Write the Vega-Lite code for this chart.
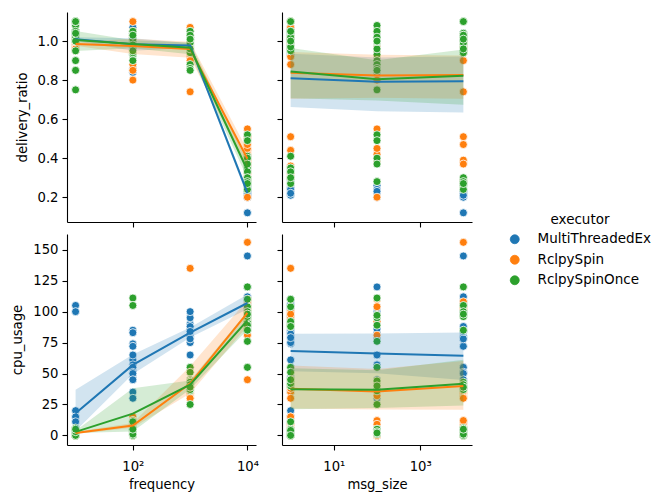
{
"$schema": "https://vega.github.io/schema/vega-lite/v6.json",
"autosize": {"type": "pad"},
"padding": {"left": 10, "top": 12, "right": 5, "bottom": 5},
"background": "white",
"config": {
 "font": "DejaVu Sans",
 "view": {"stroke": null},
 "axis": {"grid": false, "domainColor": "#000", "domainWidth": 1.1, "tickColor": "#000", "tickWidth": 1.1, "tickSize": 5, "labelColor": "#000", "labelFontSize": 13.2, "labelPadding": 4, "labelOverlap": false, "titleColor": "#000", "titleFontSize": 13.2, "titleFontWeight": "normal", "labelFont": "DejaVu Sans", "titleFont": "DejaVu Sans", "titlePadding": 8},
 "axisX": {"labelPadding": 10, "titlePadding": 6.5},
 "legend": {"labelFont": "DejaVu Sans", "titleFont": "DejaVu Sans", "labelColor": "#000", "titleColor": "#000"}
},
"data": {"values": [
{"executor":"MultiThreadedEx","frequency":10,"msg_size":1,"delivery_ratio":1.05,"cpu_usage":105},
{"executor":"MultiThreadedEx","frequency":10,"msg_size":1,"delivery_ratio":1.02,"cpu_usage":20},
{"executor":"MultiThreadedEx","frequency":10,"msg_size":1,"delivery_ratio":1.0,"cpu_usage":15},
{"executor":"MultiThreadedEx","frequency":10,"msg_size":1,"delivery_ratio":1.0,"cpu_usage":2},
{"executor":"MultiThreadedEx","frequency":10,"msg_size":1,"delivery_ratio":1.03,"cpu_usage":0},
{"executor":"MultiThreadedEx","frequency":10,"msg_size":100,"delivery_ratio":0.98,"cpu_usage":100},
{"executor":"MultiThreadedEx","frequency":10,"msg_size":100,"delivery_ratio":1.01,"cpu_usage":11},
{"executor":"MultiThreadedEx","frequency":10,"msg_size":100,"delivery_ratio":1.04,"cpu_usage":3},
{"executor":"MultiThreadedEx","frequency":10,"msg_size":100,"delivery_ratio":0.99,"cpu_usage":1},
{"executor":"MultiThreadedEx","frequency":10,"msg_size":100,"delivery_ratio":1.0,"cpu_usage":0},
{"executor":"MultiThreadedEx","frequency":10,"msg_size":10000,"delivery_ratio":1.02,"cpu_usage":5},
{"executor":"MultiThreadedEx","frequency":10,"msg_size":10000,"delivery_ratio":0.97,"cpu_usage":4},
{"executor":"MultiThreadedEx","frequency":10,"msg_size":10000,"delivery_ratio":1.03,"cpu_usage":2},
{"executor":"MultiThreadedEx","frequency":10,"msg_size":10000,"delivery_ratio":1.0,"cpu_usage":1},
{"executor":"MultiThreadedEx","frequency":10,"msg_size":10000,"delivery_ratio":1.01,"cpu_usage":0},
{"executor":"MultiThreadedEx","frequency":100,"msg_size":1,"delivery_ratio":1.07,"cpu_usage":85},
{"executor":"MultiThreadedEx","frequency":100,"msg_size":1,"delivery_ratio":1.05,"cpu_usage":74},
{"executor":"MultiThreadedEx","frequency":100,"msg_size":1,"delivery_ratio":1.0,"cpu_usage":61},
{"executor":"MultiThreadedEx","frequency":100,"msg_size":1,"delivery_ratio":0.97,"cpu_usage":47},
{"executor":"MultiThreadedEx","frequency":100,"msg_size":1,"delivery_ratio":0.93,"cpu_usage":35},
{"executor":"MultiThreadedEx","frequency":100,"msg_size":100,"delivery_ratio":0.84,"cpu_usage":83},
{"executor":"MultiThreadedEx","frequency":100,"msg_size":100,"delivery_ratio":0.86,"cpu_usage":65},
{"executor":"MultiThreadedEx","frequency":100,"msg_size":100,"delivery_ratio":1.02,"cpu_usage":57},
{"executor":"MultiThreadedEx","frequency":100,"msg_size":100,"delivery_ratio":1.0,"cpu_usage":45},
{"executor":"MultiThreadedEx","frequency":100,"msg_size":100,"delivery_ratio":0.98,"cpu_usage":30},
{"executor":"MultiThreadedEx","frequency":100,"msg_size":10000,"delivery_ratio":1.04,"cpu_usage":72},
{"executor":"MultiThreadedEx","frequency":100,"msg_size":10000,"delivery_ratio":1.01,"cpu_usage":55},
{"executor":"MultiThreadedEx","frequency":100,"msg_size":10000,"delivery_ratio":0.96,"cpu_usage":51},
{"executor":"MultiThreadedEx","frequency":100,"msg_size":10000,"delivery_ratio":0.99,"cpu_usage":50},
{"executor":"MultiThreadedEx","frequency":100,"msg_size":10000,"delivery_ratio":1.03,"cpu_usage":45},
{"executor":"MultiThreadedEx","frequency":1000,"msg_size":1,"delivery_ratio":1.02,"cpu_usage":90},
{"executor":"MultiThreadedEx","frequency":1000,"msg_size":1,"delivery_ratio":1.0,"cpu_usage":84},
{"executor":"MultiThreadedEx","frequency":1000,"msg_size":1,"delivery_ratio":0.96,"cpu_usage":75},
{"executor":"MultiThreadedEx","frequency":1000,"msg_size":1,"delivery_ratio":0.95,"cpu_usage":82},
{"executor":"MultiThreadedEx","frequency":1000,"msg_size":1,"delivery_ratio":0.93,"cpu_usage":79},
{"executor":"MultiThreadedEx","frequency":1000,"msg_size":100,"delivery_ratio":0.99,"cpu_usage":95},
{"executor":"MultiThreadedEx","frequency":1000,"msg_size":100,"delivery_ratio":1.01,"cpu_usage":80},
{"executor":"MultiThreadedEx","frequency":1000,"msg_size":100,"delivery_ratio":0.98,"cpu_usage":65},
{"executor":"MultiThreadedEx","frequency":1000,"msg_size":100,"delivery_ratio":0.97,"cpu_usage":86},
{"executor":"MultiThreadedEx","frequency":1000,"msg_size":100,"delivery_ratio":1.0,"cpu_usage":79},
{"executor":"MultiThreadedEx","frequency":1000,"msg_size":10000,"delivery_ratio":0.95,"cpu_usage":100},
{"executor":"MultiThreadedEx","frequency":1000,"msg_size":10000,"delivery_ratio":0.99,"cpu_usage":88},
{"executor":"MultiThreadedEx","frequency":1000,"msg_size":10000,"delivery_ratio":0.98,"cpu_usage":80},
{"executor":"MultiThreadedEx","frequency":1000,"msg_size":10000,"delivery_ratio":0.96,"cpu_usage":78},
{"executor":"MultiThreadedEx","frequency":1000,"msg_size":10000,"delivery_ratio":0.97,"cpu_usage":84},
{"executor":"MultiThreadedEx","frequency":10000,"msg_size":1,"delivery_ratio":0.29,"cpu_usage":110},
{"executor":"MultiThreadedEx","frequency":10000,"msg_size":1,"delivery_ratio":0.25,"cpu_usage":106},
{"executor":"MultiThreadedEx","frequency":10000,"msg_size":1,"delivery_ratio":0.21,"cpu_usage":102},
{"executor":"MultiThreadedEx","frequency":10000,"msg_size":1,"delivery_ratio":0.24,"cpu_usage":95},
{"executor":"MultiThreadedEx","frequency":10000,"msg_size":1,"delivery_ratio":0.22,"cpu_usage":96},
{"executor":"MultiThreadedEx","frequency":10000,"msg_size":100,"delivery_ratio":0.26,"cpu_usage":120},
{"executor":"MultiThreadedEx","frequency":10000,"msg_size":100,"delivery_ratio":0.24,"cpu_usage":100},
{"executor":"MultiThreadedEx","frequency":10000,"msg_size":100,"delivery_ratio":0.2,"cpu_usage":104},
{"executor":"MultiThreadedEx","frequency":10000,"msg_size":100,"delivery_ratio":0.22,"cpu_usage":98},
{"executor":"MultiThreadedEx","frequency":10000,"msg_size":100,"delivery_ratio":0.23,"cpu_usage":103},
{"executor":"MultiThreadedEx","frequency":10000,"msg_size":10000,"delivery_ratio":0.23,"cpu_usage":145},
{"executor":"MultiThreadedEx","frequency":10000,"msg_size":10000,"delivery_ratio":0.2,"cpu_usage":108},
{"executor":"MultiThreadedEx","frequency":10000,"msg_size":10000,"delivery_ratio":0.12,"cpu_usage":112},
{"executor":"MultiThreadedEx","frequency":10000,"msg_size":10000,"delivery_ratio":0.22,"cpu_usage":101},
{"executor":"MultiThreadedEx","frequency":10000,"msg_size":10000,"delivery_ratio":0.21,"cpu_usage":105},
{"executor":"RclpySpin","frequency":10,"msg_size":1,"delivery_ratio":0.97,"cpu_usage":0},
{"executor":"RclpySpin","frequency":10,"msg_size":1,"delivery_ratio":1.0,"cpu_usage":5},
{"executor":"RclpySpin","frequency":10,"msg_size":1,"delivery_ratio":0.98,"cpu_usage":2},
{"executor":"RclpySpin","frequency":10,"msg_size":1,"delivery_ratio":1.02,"cpu_usage":0},
{"executor":"RclpySpin","frequency":10,"msg_size":1,"delivery_ratio":0.95,"cpu_usage":3},
{"executor":"RclpySpin","frequency":10,"msg_size":100,"delivery_ratio":0.99,"cpu_usage":1},
{"executor":"RclpySpin","frequency":10,"msg_size":100,"delivery_ratio":0.96,"cpu_usage":0},
{"executor":"RclpySpin","frequency":10,"msg_size":100,"delivery_ratio":1.01,"cpu_usage":4},
{"executor":"RclpySpin","frequency":10,"msg_size":100,"delivery_ratio":1.0,"cpu_usage":2},
{"executor":"RclpySpin","frequency":10,"msg_size":100,"delivery_ratio":0.97,"cpu_usage":0},
{"executor":"RclpySpin","frequency":10,"msg_size":10000,"delivery_ratio":0.98,"cpu_usage":3},
{"executor":"RclpySpin","frequency":10,"msg_size":10000,"delivery_ratio":1.0,"cpu_usage":1},
{"executor":"RclpySpin","frequency":10,"msg_size":10000,"delivery_ratio":0.99,"cpu_usage":5},
{"executor":"RclpySpin","frequency":10,"msg_size":10000,"delivery_ratio":0.96,"cpu_usage":2},
{"executor":"RclpySpin","frequency":10,"msg_size":10000,"delivery_ratio":1.0,"cpu_usage":0},
{"executor":"RclpySpin","frequency":100,"msg_size":1,"delivery_ratio":1.1,"cpu_usage":15},
{"executor":"RclpySpin","frequency":100,"msg_size":1,"delivery_ratio":0.88,"cpu_usage":8},
{"executor":"RclpySpin","frequency":100,"msg_size":1,"delivery_ratio":1.0,"cpu_usage":0},
{"executor":"RclpySpin","frequency":100,"msg_size":1,"delivery_ratio":0.98,"cpu_usage":10},
{"executor":"RclpySpin","frequency":100,"msg_size":1,"delivery_ratio":1.02,"cpu_usage":5},
{"executor":"RclpySpin","frequency":100,"msg_size":100,"delivery_ratio":0.8,"cpu_usage":12},
{"executor":"RclpySpin","frequency":100,"msg_size":100,"delivery_ratio":0.85,"cpu_usage":8},
{"executor":"RclpySpin","frequency":100,"msg_size":100,"delivery_ratio":0.95,"cpu_usage":6},
{"executor":"RclpySpin","frequency":100,"msg_size":100,"delivery_ratio":1.05,"cpu_usage":9},
{"executor":"RclpySpin","frequency":100,"msg_size":100,"delivery_ratio":1.0,"cpu_usage":3},
{"executor":"RclpySpin","frequency":100,"msg_size":10000,"delivery_ratio":0.97,"cpu_usage":11},
{"executor":"RclpySpin","frequency":100,"msg_size":10000,"delivery_ratio":1.03,"cpu_usage":7},
{"executor":"RclpySpin","frequency":100,"msg_size":10000,"delivery_ratio":0.99,"cpu_usage":4},
{"executor":"RclpySpin","frequency":100,"msg_size":10000,"delivery_ratio":1.01,"cpu_usage":10},
{"executor":"RclpySpin","frequency":100,"msg_size":10000,"delivery_ratio":1.0,"cpu_usage":12},
{"executor":"RclpySpin","frequency":1000,"msg_size":1,"delivery_ratio":0.95,"cpu_usage":135},
{"executor":"RclpySpin","frequency":1000,"msg_size":1,"delivery_ratio":1.07,"cpu_usage":35},
{"executor":"RclpySpin","frequency":1000,"msg_size":1,"delivery_ratio":0.98,"cpu_usage":30},
{"executor":"RclpySpin","frequency":1000,"msg_size":1,"delivery_ratio":0.92,"cpu_usage":40},
{"executor":"RclpySpin","frequency":1000,"msg_size":1,"delivery_ratio":1.0,"cpu_usage":38},
{"executor":"RclpySpin","frequency":1000,"msg_size":100,"delivery_ratio":1.05,"cpu_usage":33},
{"executor":"RclpySpin","frequency":1000,"msg_size":100,"delivery_ratio":0.96,"cpu_usage":36},
{"executor":"RclpySpin","frequency":1000,"msg_size":100,"delivery_ratio":0.93,"cpu_usage":32},
{"executor":"RclpySpin","frequency":1000,"msg_size":100,"delivery_ratio":0.97,"cpu_usage":42},
{"executor":"RclpySpin","frequency":1000,"msg_size":100,"delivery_ratio":0.99,"cpu_usage":37},
{"executor":"RclpySpin","frequency":1000,"msg_size":10000,"delivery_ratio":0.74,"cpu_usage":34},
{"executor":"RclpySpin","frequency":1000,"msg_size":10000,"delivery_ratio":0.94,"cpu_usage":31},
{"executor":"RclpySpin","frequency":1000,"msg_size":10000,"delivery_ratio":1.02,"cpu_usage":39},
{"executor":"RclpySpin","frequency":1000,"msg_size":10000,"delivery_ratio":0.9,"cpu_usage":36},
{"executor":"RclpySpin","frequency":1000,"msg_size":10000,"delivery_ratio":0.98,"cpu_usage":30},
{"executor":"RclpySpin","frequency":10000,"msg_size":1,"delivery_ratio":0.51,"cpu_usage":95},
{"executor":"RclpySpin","frequency":10000,"msg_size":1,"delivery_ratio":0.44,"cpu_usage":89},
{"executor":"RclpySpin","frequency":10000,"msg_size":1,"delivery_ratio":0.32,"cpu_usage":100},
{"executor":"RclpySpin","frequency":10000,"msg_size":1,"delivery_ratio":0.36,"cpu_usage":45},
{"executor":"RclpySpin","frequency":10000,"msg_size":1,"delivery_ratio":0.3,"cpu_usage":98},
{"executor":"RclpySpin","frequency":10000,"msg_size":100,"delivery_ratio":0.55,"cpu_usage":81},
{"executor":"RclpySpin","frequency":10000,"msg_size":100,"delivery_ratio":0.42,"cpu_usage":110},
{"executor":"RclpySpin","frequency":10000,"msg_size":100,"delivery_ratio":0.2,"cpu_usage":92},
{"executor":"RclpySpin","frequency":10000,"msg_size":100,"delivery_ratio":0.45,"cpu_usage":104},
{"executor":"RclpySpin","frequency":10000,"msg_size":100,"delivery_ratio":0.38,"cpu_usage":96},
{"executor":"RclpySpin","frequency":10000,"msg_size":10000,"delivery_ratio":0.51,"cpu_usage":156},
{"executor":"RclpySpin","frequency":10000,"msg_size":10000,"delivery_ratio":0.47,"cpu_usage":105},
{"executor":"RclpySpin","frequency":10000,"msg_size":10000,"delivery_ratio":0.39,"cpu_usage":108},
{"executor":"RclpySpin","frequency":10000,"msg_size":10000,"delivery_ratio":0.37,"cpu_usage":102},
{"executor":"RclpySpin","frequency":10000,"msg_size":10000,"delivery_ratio":0.28,"cpu_usage":104},
{"executor":"RclpySpinOnce","frequency":10,"msg_size":1,"delivery_ratio":1.1,"cpu_usage":0},
{"executor":"RclpySpinOnce","frequency":10,"msg_size":1,"delivery_ratio":1.0,"cpu_usage":5},
{"executor":"RclpySpinOnce","frequency":10,"msg_size":1,"delivery_ratio":0.95,"cpu_usage":2},
{"executor":"RclpySpinOnce","frequency":10,"msg_size":1,"delivery_ratio":1.1,"cpu_usage":3},
{"executor":"RclpySpinOnce","frequency":10,"msg_size":1,"delivery_ratio":1.05,"cpu_usage":0},
{"executor":"RclpySpinOnce","frequency":10,"msg_size":100,"delivery_ratio":0.75,"cpu_usage":4},
{"executor":"RclpySpinOnce","frequency":10,"msg_size":100,"delivery_ratio":0.9,"cpu_usage":5},
{"executor":"RclpySpinOnce","frequency":10,"msg_size":100,"delivery_ratio":0.85,"cpu_usage":1},
{"executor":"RclpySpinOnce","frequency":10,"msg_size":100,"delivery_ratio":1.08,"cpu_usage":3},
{"executor":"RclpySpinOnce","frequency":10,"msg_size":100,"delivery_ratio":1.05,"cpu_usage":2},
{"executor":"RclpySpinOnce","frequency":10,"msg_size":10000,"delivery_ratio":1.1,"cpu_usage":6},
{"executor":"RclpySpinOnce","frequency":10,"msg_size":10000,"delivery_ratio":1.02,"cpu_usage":0},
{"executor":"RclpySpinOnce","frequency":10,"msg_size":10000,"delivery_ratio":1.1,"cpu_usage":4},
{"executor":"RclpySpinOnce","frequency":10,"msg_size":10000,"delivery_ratio":1.0,"cpu_usage":3},
{"executor":"RclpySpinOnce","frequency":10,"msg_size":10000,"delivery_ratio":1.04,"cpu_usage":5},
{"executor":"RclpySpinOnce","frequency":100,"msg_size":1,"delivery_ratio":1.04,"cpu_usage":11},
{"executor":"RclpySpinOnce","frequency":100,"msg_size":1,"delivery_ratio":1.05,"cpu_usage":3},
{"executor":"RclpySpinOnce","frequency":100,"msg_size":1,"delivery_ratio":1.0,"cpu_usage":2},
{"executor":"RclpySpinOnce","frequency":100,"msg_size":1,"delivery_ratio":0.97,"cpu_usage":4},
{"executor":"RclpySpinOnce","frequency":100,"msg_size":1,"delivery_ratio":1.02,"cpu_usage":0},
{"executor":"RclpySpinOnce","frequency":100,"msg_size":100,"delivery_ratio":0.93,"cpu_usage":111},
{"executor":"RclpySpinOnce","frequency":100,"msg_size":100,"delivery_ratio":0.99,"cpu_usage":5},
{"executor":"RclpySpinOnce","frequency":100,"msg_size":100,"delivery_ratio":0.9,"cpu_usage":5},
{"executor":"RclpySpinOnce","frequency":100,"msg_size":100,"delivery_ratio":0.96,"cpu_usage":3},
{"executor":"RclpySpinOnce","frequency":100,"msg_size":100,"delivery_ratio":1.0,"cpu_usage":2},
{"executor":"RclpySpinOnce","frequency":100,"msg_size":10000,"delivery_ratio":0.94,"cpu_usage":105},
{"executor":"RclpySpinOnce","frequency":100,"msg_size":10000,"delivery_ratio":1.01,"cpu_usage":4},
{"executor":"RclpySpinOnce","frequency":100,"msg_size":10000,"delivery_ratio":0.98,"cpu_usage":3},
{"executor":"RclpySpinOnce","frequency":100,"msg_size":10000,"delivery_ratio":1.03,"cpu_usage":1},
{"executor":"RclpySpinOnce","frequency":100,"msg_size":10000,"delivery_ratio":0.95,"cpu_usage":5},
{"executor":"RclpySpinOnce","frequency":1000,"msg_size":1,"delivery_ratio":1.05,"cpu_usage":55},
{"executor":"RclpySpinOnce","frequency":1000,"msg_size":1,"delivery_ratio":0.98,"cpu_usage":51},
{"executor":"RclpySpinOnce","frequency":1000,"msg_size":1,"delivery_ratio":0.95,"cpu_usage":40},
{"executor":"RclpySpinOnce","frequency":1000,"msg_size":1,"delivery_ratio":0.97,"cpu_usage":42},
{"executor":"RclpySpinOnce","frequency":1000,"msg_size":1,"delivery_ratio":1.0,"cpu_usage":45},
{"executor":"RclpySpinOnce","frequency":1000,"msg_size":100,"delivery_ratio":0.88,"cpu_usage":38},
{"executor":"RclpySpinOnce","frequency":1000,"msg_size":100,"delivery_ratio":1.02,"cpu_usage":25},
{"executor":"RclpySpinOnce","frequency":1000,"msg_size":100,"delivery_ratio":0.86,"cpu_usage":44},
{"executor":"RclpySpinOnce","frequency":1000,"msg_size":100,"delivery_ratio":0.85,"cpu_usage":36},
{"executor":"RclpySpinOnce","frequency":1000,"msg_size":100,"delivery_ratio":1.0,"cpu_usage":40},
{"executor":"RclpySpinOnce","frequency":1000,"msg_size":10000,"delivery_ratio":0.99,"cpu_usage":39},
{"executor":"RclpySpinOnce","frequency":1000,"msg_size":10000,"delivery_ratio":0.94,"cpu_usage":43},
{"executor":"RclpySpinOnce","frequency":1000,"msg_size":10000,"delivery_ratio":1.03,"cpu_usage":37},
{"executor":"RclpySpinOnce","frequency":1000,"msg_size":10000,"delivery_ratio":0.96,"cpu_usage":41},
{"executor":"RclpySpinOnce","frequency":1000,"msg_size":10000,"delivery_ratio":1.01,"cpu_usage":39},
{"executor":"RclpySpinOnce","frequency":10000,"msg_size":1,"delivery_ratio":0.41,"cpu_usage":90},
{"executor":"RclpySpinOnce","frequency":10000,"msg_size":1,"delivery_ratio":0.35,"cpu_usage":104},
{"executor":"RclpySpinOnce","frequency":10000,"msg_size":1,"delivery_ratio":0.33,"cpu_usage":92},
{"executor":"RclpySpinOnce","frequency":10000,"msg_size":1,"delivery_ratio":0.27,"cpu_usage":88},
{"executor":"RclpySpinOnce","frequency":10000,"msg_size":1,"delivery_ratio":0.3,"cpu_usage":110},
{"executor":"RclpySpinOnce","frequency":10000,"msg_size":100,"delivery_ratio":0.52,"cpu_usage":76},
{"executor":"RclpySpinOnce","frequency":10000,"msg_size":100,"delivery_ratio":0.49,"cpu_usage":55},
{"executor":"RclpySpinOnce","frequency":10000,"msg_size":100,"delivery_ratio":0.4,"cpu_usage":95},
{"executor":"RclpySpinOnce","frequency":10000,"msg_size":100,"delivery_ratio":0.37,"cpu_usage":97},
{"executor":"RclpySpinOnce","frequency":10000,"msg_size":100,"delivery_ratio":0.28,"cpu_usage":89},
{"executor":"RclpySpinOnce","frequency":10000,"msg_size":10000,"delivery_ratio":0.3,"cpu_usage":120},
{"executor":"RclpySpinOnce","frequency":10000,"msg_size":10000,"delivery_ratio":0.28,"cpu_usage":85},
{"executor":"RclpySpinOnce","frequency":10000,"msg_size":10000,"delivery_ratio":0.26,"cpu_usage":100},
{"executor":"RclpySpinOnce","frequency":10000,"msg_size":10000,"delivery_ratio":0.24,"cpu_usage":96},
{"executor":"RclpySpinOnce","frequency":10000,"msg_size":10000,"delivery_ratio":0.27,"cpu_usage":98}
]},
"columns": 2,
"spacing": {"row": 12, "column": 26},
"bounds": "flush",
"resolve": {"scale": {"color": "shared"}, "legend": {"color": "shared"}},
"concat": [
{
 "width": 189, "height": 210,
 "encoding": {
  "x": {"field": "frequency", "type": "quantitative", "scale": {"type": "log", "domain": [7.08, 14125], "nice": false}, "axis": {"values": [100, 10000], "labels": false, "title": null}},
  "color": {"field": "executor", "type": "nominal", "scale": {"domain": ["MultiThreadedEx", "RclpySpin", "RclpySpinOnce"], "range": ["#1f77b4", "#ff7f0e", "#2ca02c"]}, "legend": null}
 },
 "layer": [
  {"mark": {"type": "point", "filled": true, "size": 64, "opacity": 1, "stroke": "white", "strokeWidth": 0.8},
   "encoding": {
    "y": {"field": "delivery_ratio", "type": "quantitative", "scale": {"domain": [0.073, 1.149], "nice": false, "zero": false}, "axis": {"values": [0.2, 0.4, 0.6, 0.8, 1.0], "format": ".1f", "title": "delivery_ratio"}},
    "color": {"field": "executor", "type": "nominal", "legend": {"orient": "none", "legendX": 441, "legendY": 201, "title": "executor", "titleAnchor": "middle", "symbolType": "circle", "symbolSize": 80, "symbolStrokeColor": "white", "symbolStrokeWidth": 0.8, "symbolOpacity": 1, "labelFontSize": 13.5, "titleFontSize": 13.5, "titleFontWeight": "normal", "rowPadding": 5.5, "labelOffset": 16, "titlePadding": 6}}
   }},
  {"mark": {"type": "errorband", "extent": "ci", "band": {"opacity": 0.2}},
   "encoding": {"y": {"field": "delivery_ratio", "type": "quantitative", "axis": {"values": [0.2, 0.4, 0.6, 0.8, 1.0], "format": ".1f", "title": "delivery_ratio"}}}},
  {"mark": {"type": "line", "strokeWidth": 2},
   "encoding": {"y": {"field": "delivery_ratio", "type": "quantitative", "aggregate": "mean", "axis": {"values": [0.2, 0.4, 0.6, 0.8, 1.0], "format": ".1f", "title": "delivery_ratio"}}}}
 ]
},
{
 "width": 190, "height": 210,
 "encoding": {
  "x": {"field": "msg_size", "type": "quantitative", "scale": {"type": "log", "domain": [0.631, 15849], "nice": false}, "axis": {"values": [10, 1000], "labels": false, "title": null}},
  "color": {"field": "executor", "type": "nominal", "legend": null}
 },
 "layer": [
  {"mark": {"type": "point", "filled": true, "size": 64, "opacity": 1, "stroke": "white", "strokeWidth": 0.8},
   "encoding": {
    "y": {"field": "delivery_ratio", "type": "quantitative", "scale": {"domain": [0.073, 1.149], "nice": false, "zero": false}, "axis": {"values": [0.2, 0.4, 0.6, 0.8, 1.0], "labels": false, "title": null}}
   }},
  {"mark": {"type": "errorband", "extent": "ci", "band": {"opacity": 0.2}},
   "encoding": {"y": {"field": "delivery_ratio", "type": "quantitative", "axis": {"values": [0.2, 0.4, 0.6, 0.8, 1.0], "labels": false, "title": null}}}},
  {"mark": {"type": "line", "strokeWidth": 2},
   "encoding": {"y": {"field": "delivery_ratio", "type": "quantitative", "aggregate": "mean", "axis": {"values": [0.2, 0.4, 0.6, 0.8, 1.0], "labels": false, "title": null}}}}
 ]
},
{
 "width": 189, "height": 211,
 "encoding": {
  "x": {"field": "frequency", "type": "quantitative", "scale": {"type": "log", "domain": [7.08, 14125], "nice": false}, "axis": {"values": [100, 10000], "labelExpr": "datum.value == 100 ? '10²' : '10⁴'", "title": "frequency"}},
  "color": {"field": "executor", "type": "nominal", "legend": null}
 },
 "layer": [
  {"mark": {"type": "point", "filled": true, "size": 64, "opacity": 1, "stroke": "white", "strokeWidth": 0.8},
   "encoding": {
    "y": {"field": "cpu_usage", "type": "quantitative", "scale": {"domain": [-7.75, 162.75], "nice": false, "zero": false}, "axis": {"values": [0, 25, 50, 75, 100, 125, 150], "title": "cpu_usage"}}
   }},
  {"mark": {"type": "errorband", "extent": "ci", "band": {"opacity": 0.2}},
   "encoding": {"y": {"field": "cpu_usage", "type": "quantitative", "axis": {"values": [0, 25, 50, 75, 100, 125, 150], "title": "cpu_usage"}}}},
  {"mark": {"type": "line", "strokeWidth": 2},
   "encoding": {"y": {"field": "cpu_usage", "type": "quantitative", "aggregate": "mean", "axis": {"values": [0, 25, 50, 75, 100, 125, 150], "title": "cpu_usage"}}}}
 ]
},
{
 "width": 190, "height": 211,
 "encoding": {
  "x": {"field": "msg_size", "type": "quantitative", "scale": {"type": "log", "domain": [0.631, 15849], "nice": false}, "axis": {"values": [10, 1000], "labelExpr": "datum.value == 10 ? '10¹' : '10³'", "title": "msg_size"}},
  "color": {"field": "executor", "type": "nominal", "legend": null}
 },
 "layer": [
  {"mark": {"type": "point", "filled": true, "size": 64, "opacity": 1, "stroke": "white", "strokeWidth": 0.8},
   "encoding": {
    "y": {"field": "cpu_usage", "type": "quantitative", "scale": {"domain": [-7.75, 162.75], "nice": false, "zero": false}, "axis": {"values": [0, 25, 50, 75, 100, 125, 150], "labels": false, "title": null}}
   }},
  {"mark": {"type": "errorband", "extent": "ci", "band": {"opacity": 0.2}},
   "encoding": {"y": {"field": "cpu_usage", "type": "quantitative", "axis": {"values": [0, 25, 50, 75, 100, 125, 150], "labels": false, "title": null}}}},
  {"mark": {"type": "line", "strokeWidth": 2},
   "encoding": {"y": {"field": "cpu_usage", "type": "quantitative", "aggregate": "mean", "axis": {"values": [0, 25, 50, 75, 100, 125, 150], "labels": false, "title": null}}}}
 ]
}
]
}
